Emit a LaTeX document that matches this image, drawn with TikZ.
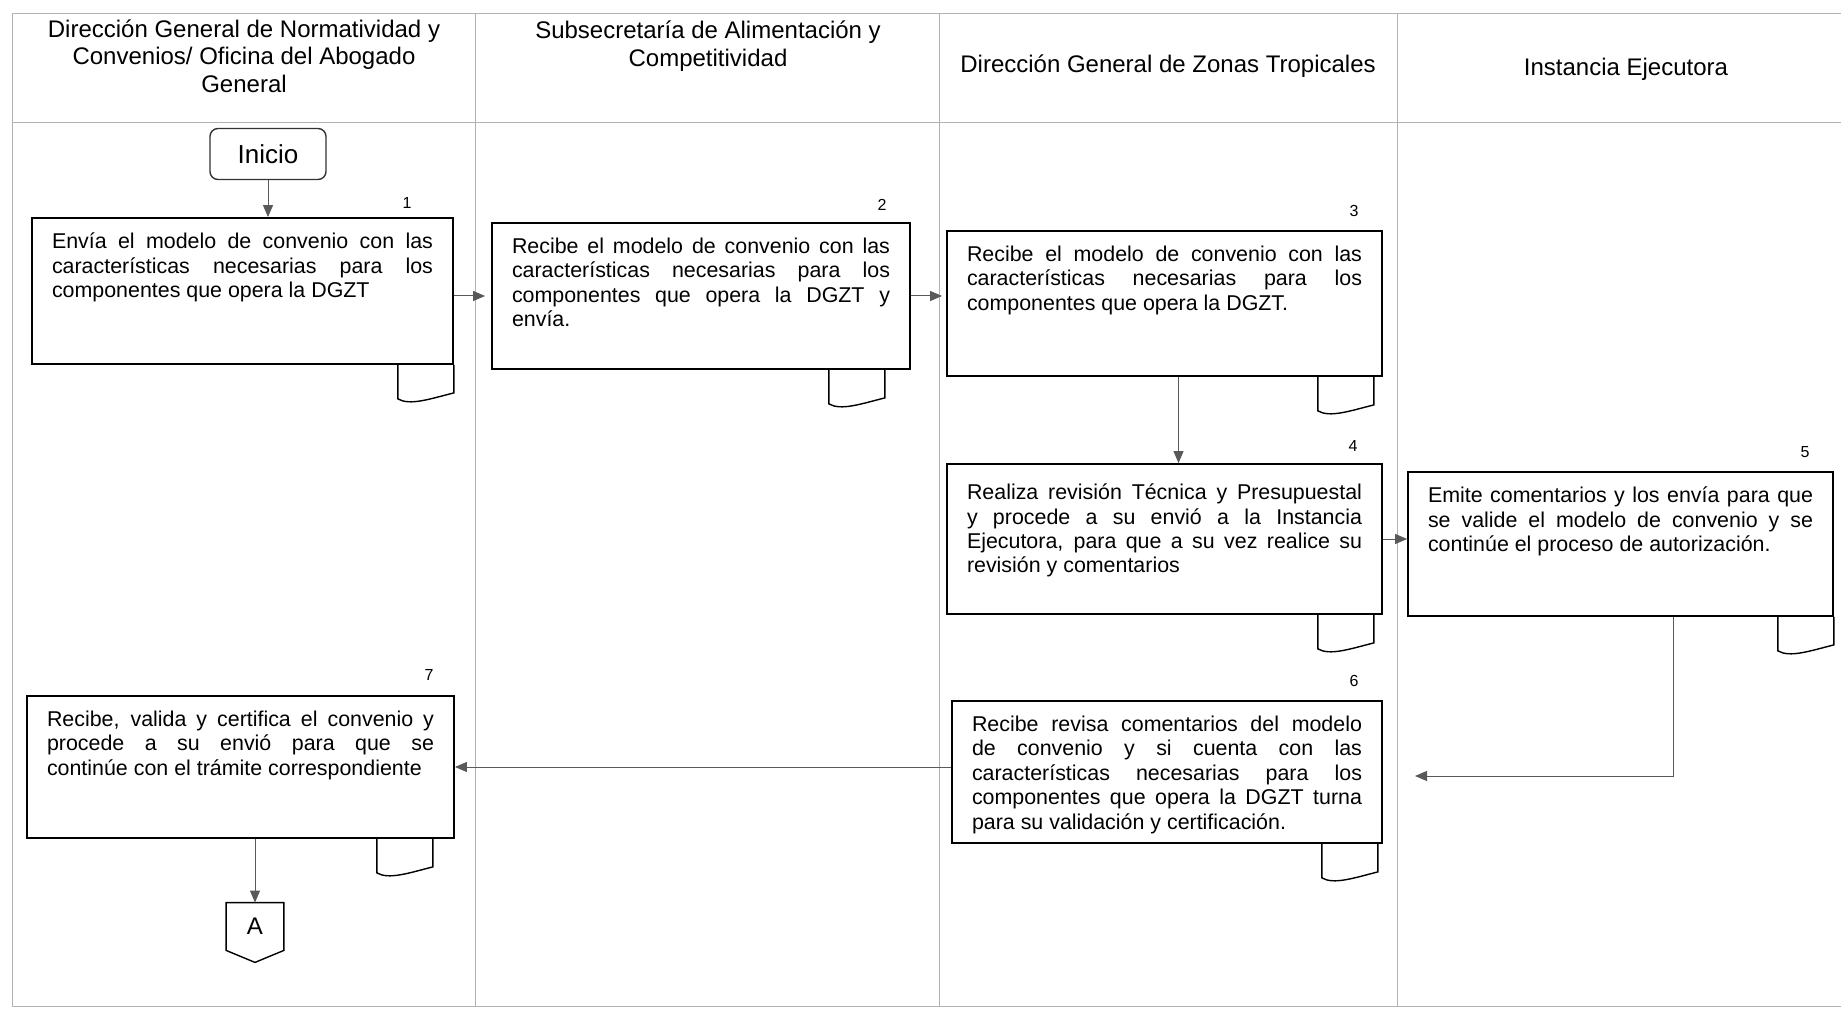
\documentclass[tikz,border=0pt]{standalone}
\usepackage{fontspec}
\setmainfont{Liberation Sans}
\usetikzlibrary{arrows.meta,positioning,calc}
\tikzset{
  lane_line/.style={draw=black!30,line width=0.5pt},
  lane_head/.style={align=center,
    font=\fontsize{12}{13.8}\selectfont},
  fc_start/.style={rectangle,rounded corners=4pt,
    draw=black!80,line width=0.7pt,
    minimum width=58pt,minimum height=25.5pt,
    font=\fontsize{13}{15}\selectfont},
  fc_act/.style 2 args={rectangle,
    draw=black,line width=0.9pt,
    inner xsep=10pt,inner ysep=7.5pt,
    font=\fontsize{10.7}{12.2}\selectfont,
    execute at begin node={\begin{minipage}[t][#2][t]{#1}%
      \pretolerance=10000\hyphenpenalty=10000},
    execute at end node={\end{minipage}}},
  fc_num/.style={inner sep=1pt,
    font=\fontsize{8}{9}\selectfont},
  fc_link/.style={rectangle,inner sep=0pt,
    minimum width=28.5pt,minimum height=23.5pt,
    font=\fontsize{12}{14}\selectfont},
  arr/.style={-{Triangle[length=6pt,width=5pt]},line width=0.5pt,draw=black!65},
  doctab/.pic={
    \draw[line width=0.7pt] (-56,0) -- (-56,34)
      .. controls (-44,41) and (-24,34) .. (0,28) -- (0,0);
  },
}
\begin{document}
\begin{tikzpicture}[x=0.5pt,y=-0.5pt]
  \useasboundingbox (0,0) rectangle (1841,1010);
  % lanes
  \draw[lane_line] (12,14) -- (1841,14);
  \draw[lane_line] (12,123) -- (1841,123);
  \draw[lane_line] (12,1006) -- (1841,1006);
  \foreach \x in {12,475,939,1397}
    \draw[lane_line] (\x,14) -- (\x,1006);
  \node (h1) [lane_head] at (244,56)
    {Dirección General de Normatividad y\\Convenios/ Oficina del Abogado\\General};
  \node (h2) [lane_head] at (708,46)
    {Subsecretaría de Alimentación y\\Competitividad};
  \node (h3) [lane_head] at (1168,66)
    {Dirección General de Zonas Tropicales};
  \node (h4) [lane_head] at (1626,69)
    {Instancia Ejecutora};
  % activities
  \node (inicio) [fc_start] at (268,154) {Inicio};
  \node (box1) [fc_act={190.5pt}{58pt}] at (242.5,291)
    {Envía el modelo de convenio con las\linebreak
     características necesarias para los\linebreak
     componentes que opera la DGZT};
  \node (box2) [fc_act={189pt}{58pt}] at (701,296)
    {Recibe el modelo de convenio con las\linebreak
     características necesarias para los\linebreak
     componentes que opera la DGZT y\linebreak
     envía.};
  \node (box3) [fc_act={197.5pt}{57.5pt}] at (1164.5,303.5)
    {Recibe el modelo de convenio con las\linebreak
     características necesarias para los\linebreak
     componentes que opera la DGZT.};
  \node (box4) [fc_act={197.5pt}{60pt}] at (1164.5,539)
    {\vspace*{2.5pt}Realiza revisión Técnica y Presupuestal\linebreak
     y procede a su envió a la Instancia\linebreak
     Ejecutora, para que a su vez realice su\linebreak
     revisión y comentarios};
  \node (box5) [fc_act={192.5pt}{57pt}] at (1620.5,544)
    {Emite comentarios y los envía para que\linebreak
     se valide el modelo de convenio y se\linebreak
     continúe el proceso de autorización.};
  \node (box6) [fc_act={195pt}{56pt}] at (1167,772)
    {Recibe revisa comentarios del modelo\linebreak
     de convenio y si cuenta con las\linebreak
     características necesarias para los\linebreak
     componentes que opera la DGZT turna\linebreak
     para su validación y certificación.};
  \node (box7) [fc_act={193.5pt}{56pt}] at (240.5,767)
    {Recibe, valida y certifica el convenio y\linebreak
     procede a su envió para que se\linebreak
     continúe con el trámite correspondiente};
  \node (conA) [fc_link] at (255,926.5) {A};
  \draw[line width=0.7pt] (conA.north west) -- (conA.north east) -- (conA.south east)
    -- ($(conA.south)+(0,12)$) -- (conA.south west) -- cycle;
  % step numbers
  \node (n1) [fc_num] at (407,203) {1};
  \node (n2) [fc_num] at (882,205) {2};
  \node (n3) [fc_num] at (1354,211) {3};
  \node (n4) [fc_num] at (1353,446) {4};
  \node (n5) [fc_num] at (1805,452) {5};
  \node (n6) [fc_num] at (1354,681) {6};
  \node (n7) [fc_num] at (429,675) {7};
  % documents
  \pic at (box1.south east) {doctab};
  \pic at ([xshift=-13pt]box2.south east) {doctab};
  \pic at ([xshift=-4.5pt]box3.south east) {doctab};
  \pic at ([xshift=-4.5pt]box4.south east) {doctab};
  \pic at (box5.south east) {doctab};
  \pic at ([xshift=-2.5pt]box6.south east) {doctab};
  \pic at ([xshift=-11pt]box7.south east) {doctab};
  % flow
  \coordinate (ret5) at (1415,776);
  \draw[arr] (inicio.south) -- (inicio.south |- box1.north);
  \draw[arr,shorten >=3pt] (box2.west -| box1.east) -- (box2.west);
  \draw[arr,shorten >=2pt] (box2.east) -- (box2.east -| box3.west);
  \draw[arr] ([xshift=7pt]box3.south) -- ([xshift=7pt]box3.south |- box4.north);
  \draw[arr] (box4.east) -- (box4.east -| box5.west);
  \draw[arr] ([xshift=26.5pt]box5.south) |- (ret5);
  \draw[arr] (box7.east -| box6.west) -- (box7.east);
  \draw[arr] (conA.north |- box7.south) -- (conA.north);
\end{tikzpicture}
\end{document}
